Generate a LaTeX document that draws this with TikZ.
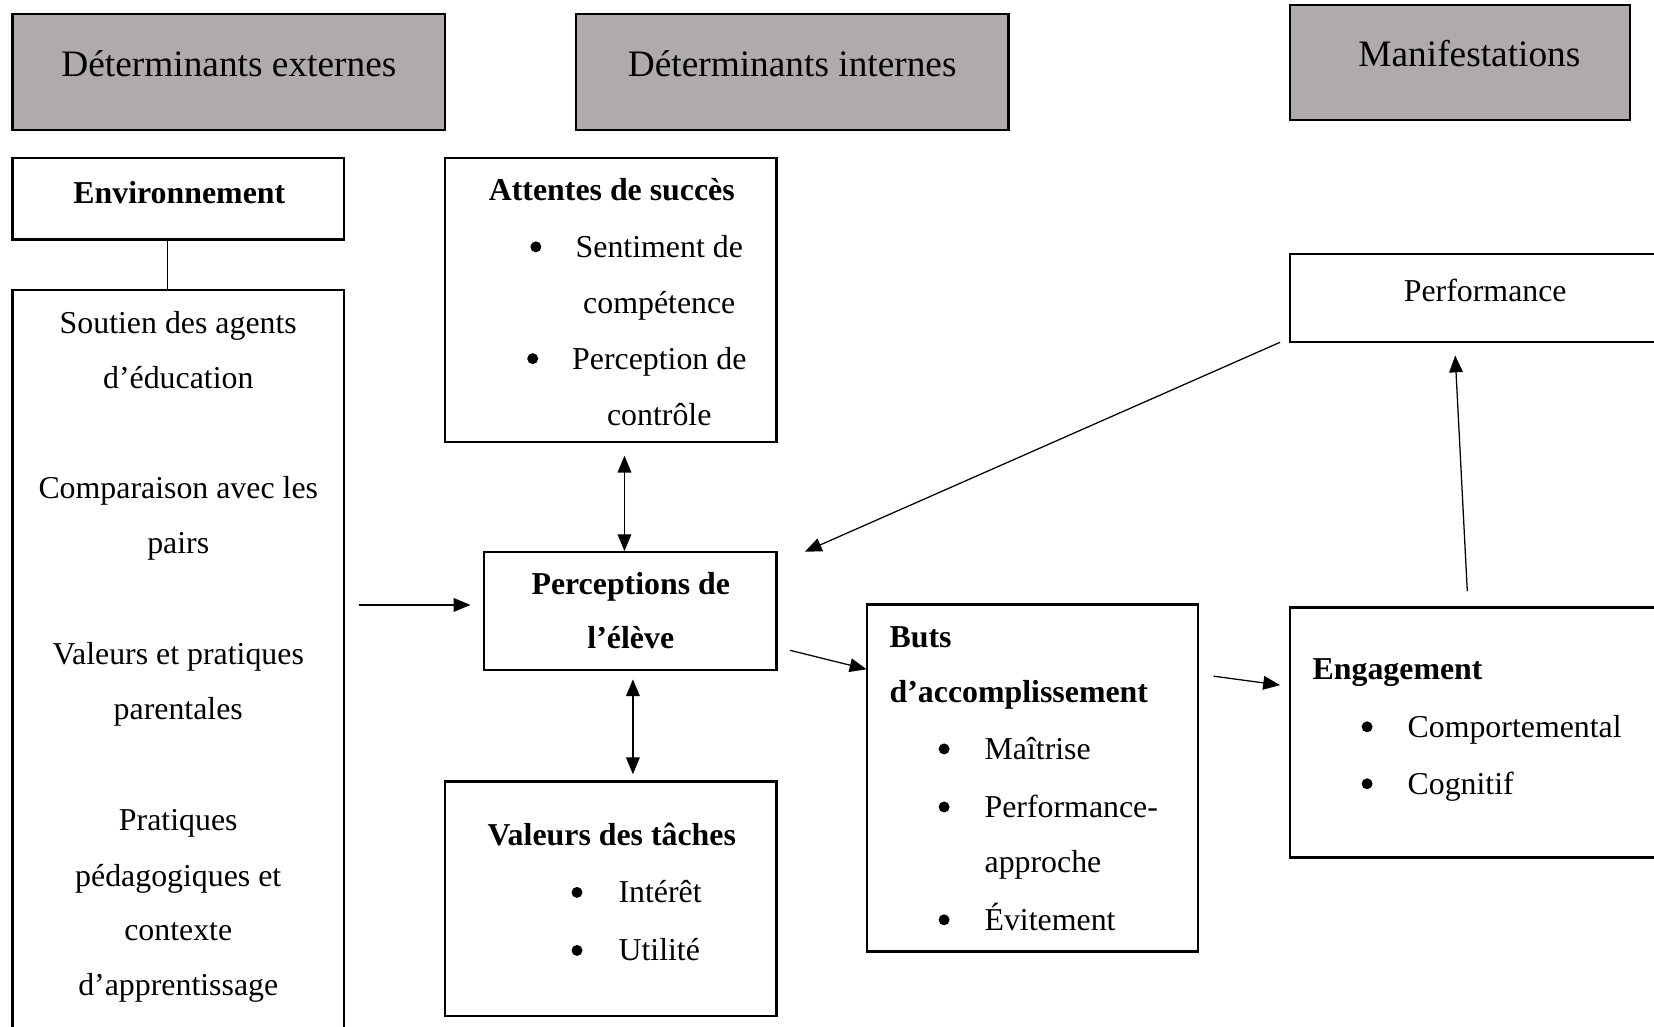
\documentclass[tikz,border=0pt]{standalone}
\usepackage{fontspec}
\setmainfont{Liberation Serif}
\usetikzlibrary{arrows.meta}
\definecolor{hdrgray}{RGB}{175,171,171}
\tikzset{
  boxnode/.style={draw, rectangle, line width=1.1pt, inner sep=0pt},
  hdrbox/.style={boxnode, fill=hdrgray},
  htxt/.style={inner sep=0pt, anchor=base, font=\fontsize{17.7}{21}\selectfont},
  ctxt/.style={inner sep=0pt, anchor=base, font=\fontsize{15.1}{18}\selectfont},
  ltxt/.style={inner sep=0pt, anchor=base west, font=\fontsize{15.1}{18}\selectfont},
  cbold/.style={ctxt, font=\fontsize{15.1}{18}\selectfont\bfseries},
  lbold/.style={ltxt, font=\fontsize{15.1}{18}\selectfont\bfseries},
  bul/.style={circle, fill=black, inner sep=0pt, minimum size=5.2pt},
  arr/.style={-{Triangle[length=8pt,width=6.5pt]}, line width=0.6pt},
  darr/.style={{Triangle[length=8pt,width=6.5pt]}-{Triangle[length=8pt,width=6.5pt]}, line width=0.6pt},
}
\begin{document}
\begin{tikzpicture}[x=0.5pt,y=-0.5pt]
\useasboundingbox (0,0) rectangle (1568,973);
\clip (0,0) rectangle (1568,973);
% header boxes
\node[hdrbox, minimum width=205pt, minimum height=55pt] (h1) at (217,68) {};
\node[hdrbox, minimum width=205pt, minimum height=55pt] (h2) at (751,68) {};
\node[hdrbox, minimum width=161pt, minimum height=54.5pt] (h3) at (1384,59.5) {};
\node[htxt] (h1t) at (217,72.5) {Déterminants externes};
\node[htxt] (h2t) at (751,72.5) {Déterminants internes};
\node[htxt] (h3t) at (1393,63.5) {Manifestations};
% environment
\node[boxnode, minimum width=157pt, minimum height=38.5pt] (env) at (169,188.5) {};
\node[cbold] (envt) at (170,193) {Environnement};
\node[boxnode, minimum width=157pt, minimum height=365pt] (envl) at (169,640) {};
\draw[line width=0.6pt] (159,227) coordinate (ec1) -- (159,275) coordinate (ec2);
\node[ctxt] (l1) at (169,316) {Soutien des agents};
\node[ctxt] (l2) at (169,368) {d’éducation};
\node[ctxt] (l3) at (169,473) {Comparaison avec les};
\node[ctxt] (l4) at (169,525) {pairs};
\node[ctxt] (l5) at (169,630) {Valeurs et pratiques};
\node[ctxt] (l6) at (169,682) {parentales};
\node[ctxt] (l7) at (169,787) {Pratiques};
\node[ctxt] (l8) at (169,840) {pédagogiques et};
\node[ctxt] (l9) at (169,892) {contexte};
\node[ctxt] (l10) at (169,944) {d’apprentissage};
% attentes
\node[boxnode, minimum width=157pt, minimum height=134.5pt] (att) at (579,284.5) {};
\node[cbold] (attt) at (580,190) {Attentes de succès};
\node[bul] (ab1) at (508,234) {};
\node[ctxt] (a1) at (625,244) {Sentiment de};
\node[ctxt] (a2) at (625,297) {compétence};
\node[bul] (ab2) at (505,340) {};
\node[ctxt] (a3) at (625,350) {Perception de};
\node[ctxt] (a4) at (625,403) {contrôle};
% perceptions
\node[boxnode, minimum width=138.5pt, minimum height=56pt] (perc) at (597.5,579) {};
\node[cbold] (p1) at (598,564) {Perceptions de};
\node[cbold] (p2) at (598,615) {l’élève};
% valeurs
\node[boxnode, minimum width=157pt, minimum height=111pt] (val) at (579,852) {};
\node[cbold] (valt) at (580,802) {Valeurs des tâches};
\node[bul] (vb1) at (547,846) {};
\node[ltxt] (v1) at (586,856) {Intérêt};
\node[bul] (vb2) at (547,901) {};
\node[ltxt] (v2) at (586,911) {Utilité};
% buts
\node[boxnode, minimum width=157pt, minimum height=164.5pt] (buts) at (979,737.5) {};
\node[lbold] (b1) at (843,614) {Buts};
\node[lbold] (b2) at (843,666) {d’accomplissement};
\node[bul] (bb1) at (895,710) {};
\node[ltxt] (b3) at (933,720) {Maîtrise};
\node[bul] (bb2) at (895,765) {};
\node[ltxt] (b4) at (933,775) {Performance-};
\node[ltxt] (b5) at (933,827) {approche};
\node[bul] (bb3) at (895,872) {};
\node[ltxt] (b6) at (933,882) {Évitement};
% performance
\node[boxnode, minimum width=188.5pt, minimum height=41.5pt] (perf) at (1411.5,282.5) {};
\node[ctxt] (perft) at (1408,286) {Performance};
% engagement
\node[boxnode, minimum width=188.5pt, minimum height=118.5pt] (eng) at (1411.5,694.5) {};
\node[lbold] (e1) at (1244,644) {Engagement};
\node[bul] (eb1) at (1296,689) {};
\node[ltxt] (e2) at (1334,699) {Comportemental};
\node[bul] (eb2) at (1296,743) {};
\node[ltxt] (e3) at (1334,753) {Cognitif};
% connector end points
\coordinate (c1s) at (340,573.5);
\coordinate (c1e) at (446,573.5);
\coordinate (c2s) at (592,432);
\coordinate (c2e) at (592,522.5);
\coordinate (c3s) at (600,644);
\coordinate (c3e) at (600,734);
\coordinate (c4s) at (749,616.5);
\coordinate (c4e) at (821.5,634.5);
\coordinate (c5s) at (1150.5,641);
\coordinate (c5e) at (1213.5,649.5);
\coordinate (c6s) at (1391,560.5);
\coordinate (c6e) at (1379.5,337);
\coordinate (c7s) at (1213.5,324.5);
\coordinate (c7e) at (763,523);
\draw[arr] (c1s) -- (c1e);
\draw[darr] (c2s) -- (c2e);
\draw[darr] (c3s) -- (c3e);
\draw[arr] (c4s) -- (c4e);
\draw[arr] (c5s) -- (c5e);
\draw[arr] (c6s) -- (c6e);
\draw[arr] (c7s) -- (c7e);
\end{tikzpicture}
\end{document}
